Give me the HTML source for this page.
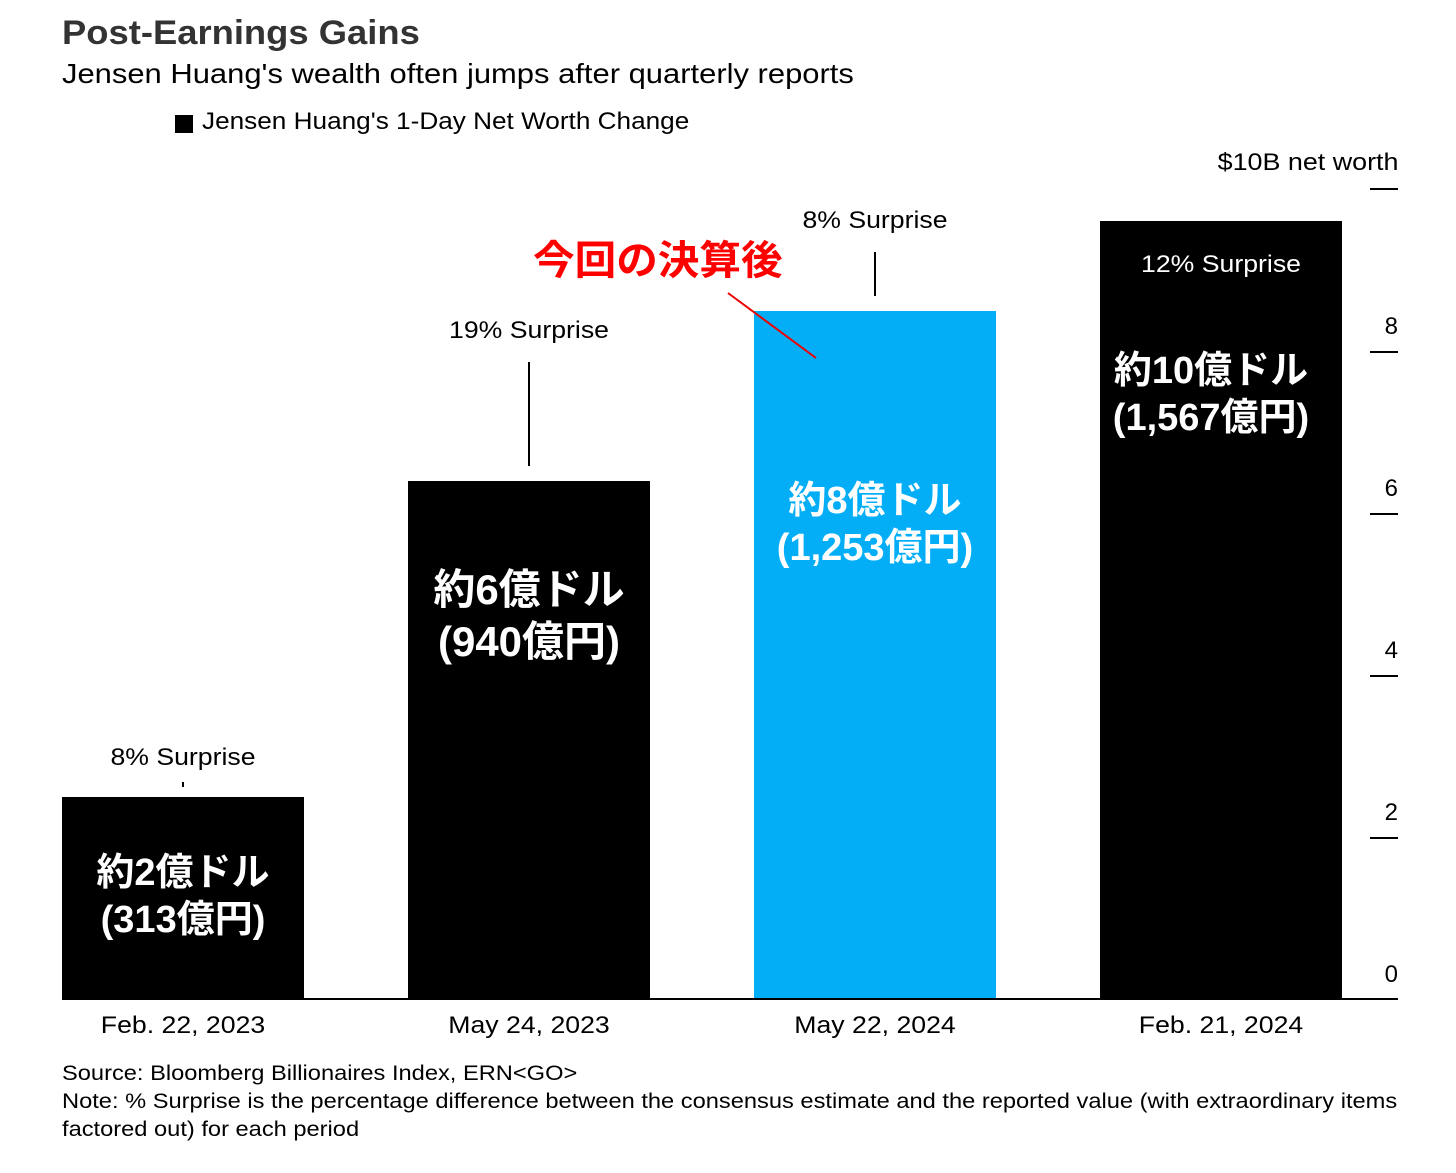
<!DOCTYPE html>
<html><head><meta charset="utf-8"><style>
body{margin:0;width:1456px;height:1173px;background:#fff;position:relative;overflow:hidden;font-family:"Liberation Sans","Noto Sans CJK JP",sans-serif;color:#000}
.a{position:absolute;white-space:nowrap}
.c{transform:translateX(-50%) scaleX(1.11)}
.bar{position:absolute;width:242px;background:#000}
.jp{position:absolute;color:#fff;font-weight:bold;text-align:center;width:242px;font-family:"Liberation Sans","Noto Sans CJK JP",sans-serif}
.tk{position:absolute;left:1370px;width:28px;height:2px;background:#000}
.tl{position:absolute;right:58px;font-size:24px}
.vl{position:absolute;width:2px;background:#000}
</style></head><body>
<div class="a" style="left:62px;top:14px;font-size:34px;font-weight:bold;color:#333;transform-origin:left;transform:scaleX(1.07)">Post-Earnings Gains</div>
<div class="a" style="left:62px;top:58px;font-size:28px;transform-origin:left;transform:scaleX(1.105)">Jensen Huang's wealth often jumps after quarterly reports</div>
<div class="a" style="left:175px;top:115px;width:18px;height:18px;background:#000"></div>
<div class="a" style="left:202px;top:108px;font-size:24px;transform-origin:left;transform:scaleX(1.09)">Jensen Huang's 1-Day Net Worth Change</div>
<div class="a" style="right:58px;top:149px;font-size:24px;transform-origin:right;transform:scaleX(1.12)">$10B net worth</div>
<div class="tk" style="top:188px"></div>
<div class="tk" style="top:351px"></div><div class="tl" style="top:313px">8</div>
<div class="tk" style="top:513px"></div><div class="tl" style="top:475px">6</div>
<div class="tk" style="top:675px"></div><div class="tl" style="top:637px">4</div>
<div class="tk" style="top:837px"></div><div class="tl" style="top:799px">2</div>
<div class="tl" style="top:961px">0</div>

<div class="bar" style="left:62px;top:797px;height:202px"></div>
<div class="bar" style="left:408px;top:481px;height:518px"></div>
<div class="bar" style="left:754px;top:311px;height:688px;background:#04AEF7"></div>
<div class="bar" style="left:1100px;top:221px;height:778px"></div>
<div class="a" style="left:62px;top:998px;width:1336px;height:2px;background:#000"></div>

<div class="a c" style="left:183px;top:744px;font-size:24px">8% Surprise</div>
<div class="vl" style="left:182px;top:782px;height:5px"></div>
<div class="a c" style="left:529px;top:317px;font-size:24px">19% Surprise</div>
<div class="vl" style="left:528px;top:362px;height:104px"></div>
<div class="a c" style="left:875px;top:207px;font-size:24px">8% Surprise</div>
<div class="vl" style="left:874px;top:252px;height:44px"></div>
<div class="a c" style="left:1221px;top:251px;font-size:24px;color:#fff;text-shadow:-1px -1px 0 #000,1px -1px 0 #000,-1px 1px 0 #000,1px 1px 0 #000,0 0 2px #000">12% Surprise</div>

<div class="jp" style="left:62px;top:850px;font-size:38px;line-height:47px">約2億ドル<br>(313億円)</div>
<div class="jp" style="left:408px;top:564px;font-size:42px;line-height:52px">約6億ドル<br>(940億円)</div>
<div class="jp" style="left:754px;top:478px;font-size:38px;line-height:47px">約8億ドル<br>(1,253億円)</div>
<div class="jp" style="left:1082px;top:348px;width:258px;font-size:38px;line-height:47px">約10億ドル<br>(1,567億円)</div>

<div class="a" style="left:533px;top:228px;font-size:40px;font-weight:bold;color:#f00;transform-origin:left;transform:scaleX(1.04);text-shadow:-2px -2px 0 #fff,2px -2px 0 #fff,-2px 2px 0 #fff,2px 2px 0 #fff">今回の決算後</div>
<svg class="a" style="left:0;top:0" width="1456" height="1173"><line x1="728" y1="293" x2="816" y2="358" stroke="#e00" stroke-width="2"/></svg>

<div class="a c" style="left:183px;top:1012px;font-size:24px">Feb. 22, 2023</div>
<div class="a c" style="left:529px;top:1012px;font-size:24px">May 24, 2023</div>
<div class="a c" style="left:875px;top:1012px;font-size:24px">May 22, 2024</div>
<div class="a c" style="left:1221px;top:1012px;font-size:24px">Feb. 21, 2024</div>

<div class="a" style="left:62px;top:1059px;font-size:21.5px;line-height:28px;transform-origin:left top;transform:scaleX(1.1)">Source: Bloomberg Billionaires Index, ERN&lt;GO&gt;<br>Note: % Surprise is the percentage difference between the consensus estimate and the reported value (with extraordinary items<br>factored out) for each period</div>
</body></html>
